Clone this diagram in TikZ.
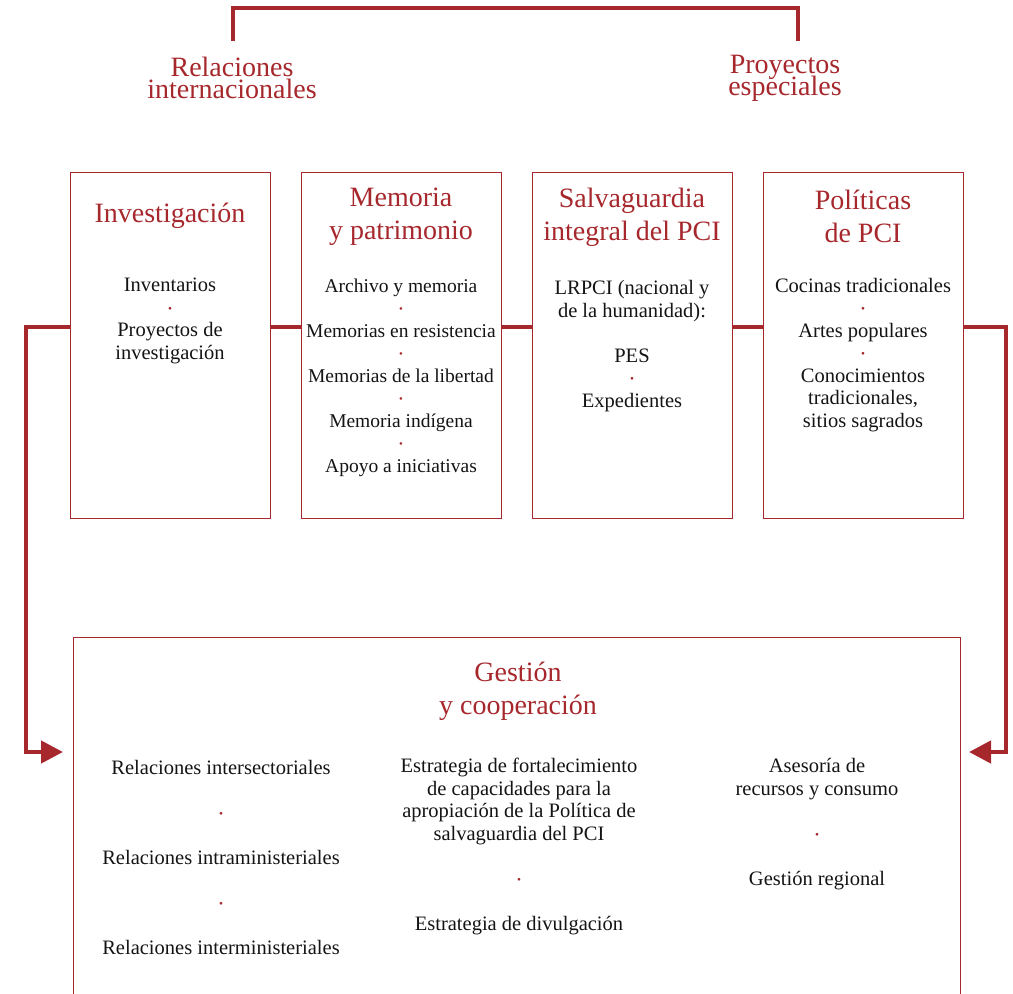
\documentclass[tikz,border=0pt]{standalone}
\usepackage{fontspec}
\setmainfont{Liberation Serif}
\usetikzlibrary{arrows.meta}
\definecolor{accent}{HTML}{A6282D}
\definecolor{ink}{HTML}{141414}
\newcommand\rdot{\raisebox{0.1em}{\color{accent}\scalebox{0.55}{\textbullet}}}
\newcommand\toplabfont{\fontsize{28}{22}\selectfont\lineskiplimit=-30pt\relax}
\begin{document}
\begin{tikzpicture}[x=1pt,y=-1pt,
  conn/.style={draw=accent,line width=4.5pt,line join=miter},
  boxnode/.style={draw=accent,line width=1pt,minimum width=200pt,minimum height=346pt,inner sep=0pt},
  ttl/.style={text=accent,align=center,font=\fontsize{28}{33}\selectfont,inner sep=0pt},
  toplabel/.style={text=accent,align=center,font=\toplabfont,inner sep=0pt},
  body/.style={text=ink,align=center,font=\fontsize{20.5}{22.5}\selectfont,inner sep=0pt},
  arrowend/.style={-{Triangle[length=22pt,width=22pt]}}
]
\useasboundingbox (0,0) rectangle (1013,994);

% top labels and bracket
\node[toplabel] (ri) at (232,78) {Relaciones\\internacionales};
\node[toplabel] (pe) at (785,78) {Proyectos\\especiales};
\coordinate (t1) at (233,41);
\coordinate (t2) at (798,41);
\coordinate (tl) at (233,8);
\coordinate (tr) at (798,8);
\draw[conn] (t1) -- (tl) -- (tr) -- (t2);

% boxes
\node[boxnode] (b1) at (170,345) {};
\node[boxnode] (b2) at (401,345) {};
\node[boxnode] (b3) at (632,345) {};
\node[boxnode] (b4) at (863,345) {};
\node[draw=accent,line width=1pt,minimum width=887pt,minimum height=380pt,inner sep=0pt,anchor=north west] (g) at (73,637) {};

% titles
\node[ttl] (b1t) at (170,216) {Investigación};
\node[ttl] (b2t) at (401,217) {Memoria\\y patrimonio};
\node[ttl] (b3t) at (632,217) {Salvaguardia\\integral del PCI};
\node[ttl] (b4t) at (863,216) {Políticas\\de PCI};
\node[ttl] (gt) at (518,691) {Gestión\\y cooperación};

% box lists
\node[body] (b1l) at (170,321) {Inventarios\\\rdot\\Proyectos de\\investigación};
\node[body,font=\fontsize{19.5}{22.5}\selectfont] (b2l) at (401,377.5) {Archivo y memoria\\\rdot\\Memorias en resistencia\\\rdot\\Memorias de la libertad\\\rdot\\Memoria indígena\\\rdot\\Apoyo a iniciativas};
\node[body] (b3l) at (632,346) {LRPCI (nacional y\\de la humanidad):\\[22.5pt]PES\\\rdot\\Expedientes};
\node[body] (b4l) at (863,355) {Cocinas tradicionales\\\rdot\\Artes populares\\\rdot\\Conocimientos\\tradicionales,\\sitios sagrados};

% bottom columns
\node[body] (c1) at (221,857.5) {Relaciones intersectoriales\\[22.5pt]\rdot\\[22.5pt]Relaciones intraministeriales\\[22.5pt]\rdot\\[22.5pt]Relaciones interministeriales};
\node[body] (c2) at (519,846.5) {Estrategia de fortalecimiento\\de capacidades para la\\apropiación de la Política de\\salvaguardia del PCI\\[22.5pt]\rdot\\[22.5pt]Estrategia de divulgación};
\node[body] (c3) at (817,824) {Asesoría de\\recursos y consumo\\[22.5pt]\rdot\\[22.5pt]Gestión regional};

% connectors
\coordinate (h) at (0,327);
\draw[conn] (b1.east|-h) -- (b2.west|-h);
\draw[conn] (b2.east|-h) -- (b3.west|-h);
\draw[conn] (b3.east|-h) -- (b4.west|-h);
\coordinate (lc) at (26,752);
\coordinate (la) at (63,752);
\coordinate (rc) at (1006,752);
\coordinate (ra) at (969,752);
\draw[conn,arrowend] (b1.west|-h) -| (lc) -- (la);
\draw[conn,arrowend] (b4.east|-h) -| (rc) -- (ra);
\end{tikzpicture}
\end{document}
